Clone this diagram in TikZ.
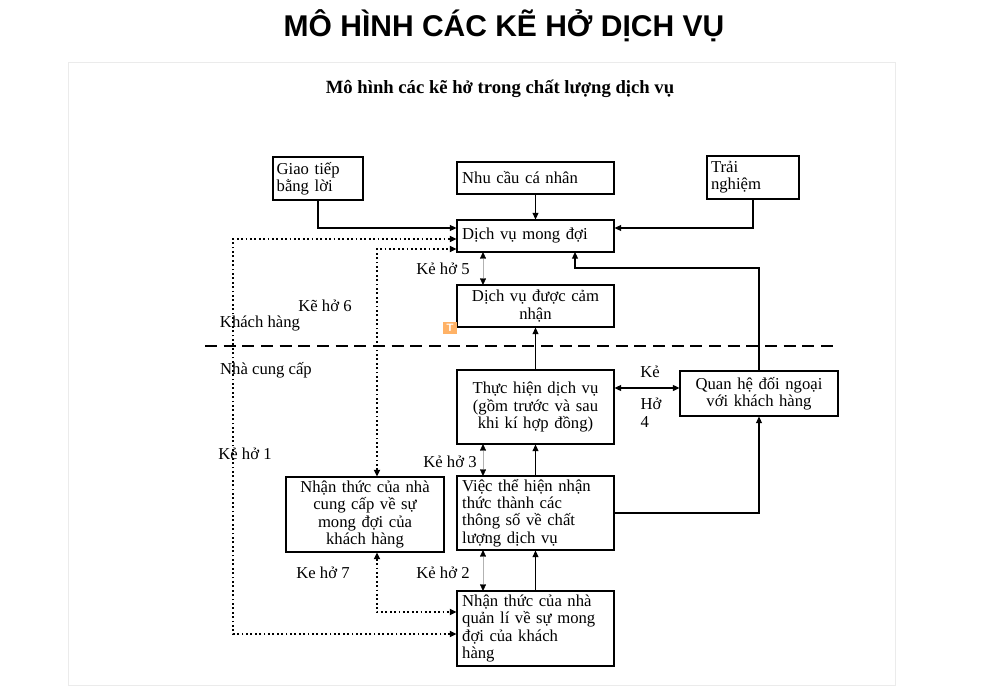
\documentclass[tikz,border=0pt]{standalone}
\usepackage{fontspec}
\setmainfont{Liberation Serif}
\newfontfamily\titlefont{Liberation Sans}
\usetikzlibrary{arrows.meta}
\begin{document}
\begin{tikzpicture}[x=0.75pt,y=-0.75pt,
  box/.style={draw,line width=0.8pt,inner sep=2pt,font=\fontsize{12.5}{13}\selectfont},
  lab/.style={font=\fontsize{12.5}{13.5}\selectfont},
  tip/.style={-{Triangle[length=5pt,width=4.5pt]}},
  conn/.style={line width=0.8pt,tip},
  dot/.style={line width=1.3pt,dotted,{Triangle[length=5pt,width=4.5pt]}-{Triangle[length=5pt,width=4.5pt]}},
  gap/.style={line width=0.3pt,draw=gray!60,{Triangle[length=5pt,width=4.5pt,color=black]}-{Triangle[length=5pt,width=4.5pt,color=black]}}]
\useasboundingbox (0,0) rectangle (1005,692);
\fill[white] (0,0) rectangle (1005,692);
\draw[black!8] (68,62) rectangle (895,685);
\node[font=\titlefont\bfseries\fontsize{22.5}{25}\selectfont] (title) at (504,26) {MÔ HÌNH CÁC KẼ HỞ DỊCH VỤ};
\node[font=\bfseries\fontsize{14}{16}\selectfont] (sub) at (500,89) {Mô hình các kẽ hở trong chất lượng dịch vụ};

\node[box,minimum width=67.5pt,minimum height=32.25pt,text width=62pt,align=left] (gt) at (318,178.5) {Giao tiếp\\bằng lời};
\node[box,minimum width=117.75pt,minimum height=24pt,text width=110pt,align=left] (nc) at (535.5,178) {Nhu cầu cá nhân};
\node[box,minimum width=69pt,minimum height=32.25pt,text width=63pt,align=left] (tn) at (753,177.5) {Trải\\nghiệm};
\node[box,minimum width=117.75pt,minimum height=24pt,text width=110pt,align=left] (md) at (535.5,236) {Dịch vụ mong đợi};
\node[box,minimum width=117.75pt,minimum height=31.5pt,text width=112pt,align=center] (cn) at (535.5,306) {Dịch vụ được cảm\\nhận};
\node[box,minimum width=117.75pt,minimum height=55.5pt,text width=112pt,align=center] (th) at (535.5,407) {Thực hiện dịch vụ\\(gồm trước và sau\\khi kí hợp đồng)\\[6pt]};
\node[box,minimum width=118.5pt,minimum height=33.75pt,text width=112pt,align=center] (qh) at (759,393.5) {Quan hệ đối ngoại\\với khách hàng};
\node[box,minimum width=117.75pt,minimum height=55.5pt,text width=110pt,align=left] (vt) at (535.5,513) {Việc thể hiện nhận\\thức thành các\\thông số về chất\\lượng dịch vụ};
\node[box,minimum width=118.5pt,minimum height=56.25pt,text width=112pt,align=center] (cc) at (365,514.5) {Nhận thức của nhà\\cung cấp về sự\\mong đợi của\\khách hàng};
\node[box,minimum width=117.75pt,minimum height=56.25pt,text width=110pt,align=left] (ql) at (535.5,628.5) {Nhận thức của nhà\\quản lí về sự mong\\đợi của khách\\hàng};

\coordinate (dl) at (205,346); \coordinate (dr) at (835,346);
\draw[line width=1.6pt,dash pattern=on 9pt off 5pt] (dl) -- (dr);

% solid connectors
\draw[conn] (gt.south) |- (md.west |- 0,228);
\draw[conn] (nc) -- (md);
\draw[conn] (tn.south) |- (md.east |- 0,228);
\draw[conn] (qh.north) |- (575,268) -- (575,252);
\draw[conn] (th.north) -- (cn.south);
\draw[conn] (vt.north) -- (th.south);
\draw[conn] (ql.north) -- (vt.south);
\draw[conn] (vt.east) -| (qh.south);
\draw[line width=1pt,{Triangle[length=5pt,width=4.5pt]}-{Triangle[length=5pt,width=4.5pt]}] (th.east |- 0,388) -- (qh.west |- 0,388);

% dotted
\draw[dot] (ql.west |- 0,634) -| (233,239) -- (md.west |- 0,239);
\draw[dot] (cc.north -| 377,0) |- (md.west |- 0,249);
\draw[dot] (cc.south -| 377,0) |- (ql.west |- 0,612);

% gaps
\draw[gap] (483,252) -- (483,285);
\draw[gap] (483,444) -- (483,476);
\draw[gap] (483,550) -- (483,591);

% labels
\node[lab] (g5) at (443,269) {Kẻ hở 5};
\node[lab] (g6) at (325,306) {Kẽ hở 6};
\node[lab] (kh) at (260,323) {Khách hàng};
\node[lab] (ncc) at (266,370) {Nhà cung cấp};
\node[lab] (g1) at (245,454) {Kẻ hở 1};
\node[lab] (g3) at (450,462) {Kẻ hở 3};
\node[lab] (g7) at (323,573) {Ke hở 7};
\node[lab] (g2) at (443,573) {Kẻ hở 2};
\node[lab] (g4a) at (650,372) {Kẻ};
\node[lab,align=left] (g4b) at (651,413) {Hở\\4};
\node[fill=orange!60,text=white,font=\sffamily\bfseries\fontsize{8}{8}\selectfont,inner sep=2pt] (ticon) at (450,328) {T};
\end{tikzpicture}
\end{document}
